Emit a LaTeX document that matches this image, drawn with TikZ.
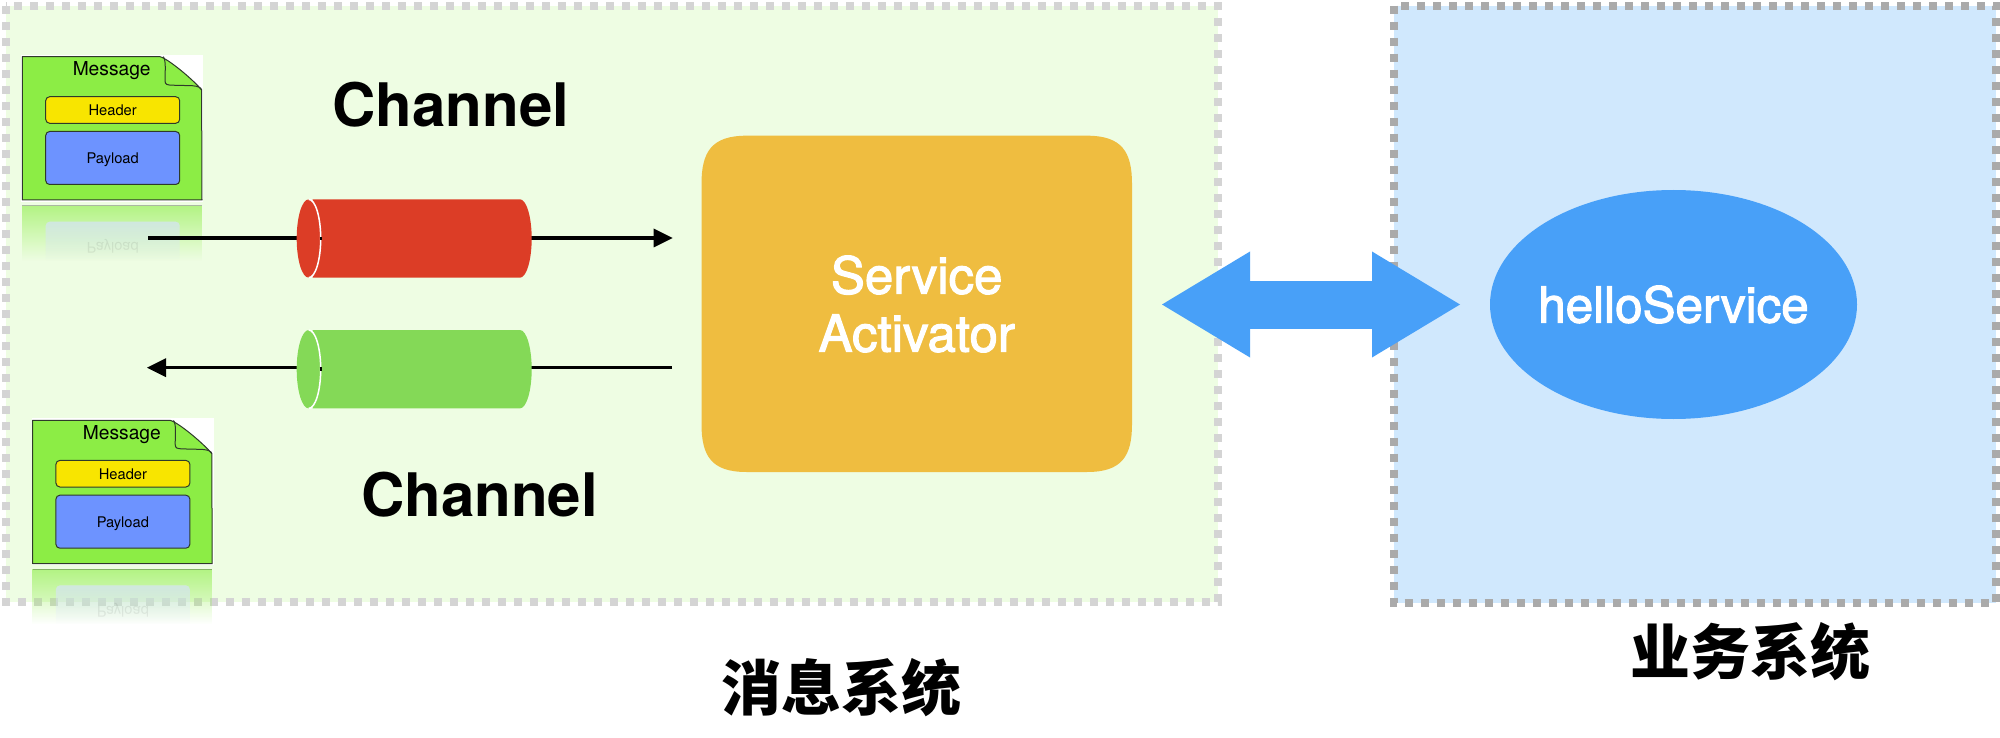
\documentclass[tikz,border=0pt]{standalone}
\usepackage{fontspec}
\setmainfont{TeX Gyre Heros}
\newfontfamily\cjkfont{Noto Sans CJK SC}
\newfontfamily\medfont[FakeBold=2.2]{TeX Gyre Heros}
\usetikzlibrary{arrows.meta,shapes.geometric,fadings}
\definecolor{regiongreen}{HTML}{EEFDE3}
\definecolor{regionblue}{HTML}{D0E8FD}
\definecolor{dashlight}{HTML}{D4D4D4}
\definecolor{dashdark}{HTML}{AAAAAA}
\definecolor{svcorange}{HTML}{EFBD40}
\definecolor{svcblue}{HTML}{48A0F8}
\definecolor{chanred}{HTML}{DC3D26}
\definecolor{changreen}{HTML}{84D957}
\definecolor{msggreen}{HTML}{8CED45}
\definecolor{hdryellow}{HTML}{F8E500}
\definecolor{payblue}{HTML}{6D93FF}
\definecolor{iconline}{HTML}{2E3A2A}
\tikzfading[name=fadedown, top color=transparent!40, bottom color=transparent!100]
\tikzset{
  x=1pt,y=-1pt,
  regionbox/.style={line width=8pt,dash pattern=on 8pt off 8pt},
  wire/.style={line width=3.5pt,black},
  wirehead/.style={-{Triangle[length=19pt,width=19pt,line width=0pt]}},
  bigtitle/.style={font=\fontsize{60}{62}\selectfont\bfseries,inner sep=0pt,anchor=base,black},
  cjktitle/.style={font=\fontsize{60}{62}\cjkfont\bfseries,inner sep=0pt,black},
  whitelabel/.style={font=\fontsize{51}{58}\medfont,text=white,align=center,inner sep=0pt},
  msgpart/.style={draw=iconline,line width=1pt,rounded corners=4pt,inner sep=0pt,
    minimum width=134pt,font=\fontsize{14.7}{16}\selectfont,text height=10.7pt,text depth=0pt},
  msgicon/.pic={
    \fill[white] (-1,-2) rectangle (181,145);
    \draw[draw=iconline,line width=1pt,fill=msggreen,line join=round]
      (0,0) -- (137.7,0) .. controls (146,2) and (172,24) .. (179.3,33.3)
      -- (179.7,143.3) -- (0,143.3) -- cycle;
    \draw[draw=iconline,line width=1pt]
      (141,0) .. controls (144,4) and (142.7,15) .. (142.7,24)
      .. controls (142.7,28) and (145,28.3) .. (150,28.5)
      -- (170,29) .. controls (176,29.5) and (179,31) .. (179.3,33.3);
    \node[inner sep=0pt,anchor=base,font=\fontsize{19.2}{20}\selectfont] (-title) at (89.4,19) {Message};
    \node[msgpart,fill=hdryellow,minimum height=26.6pt] (-hdr) at (90.4,53.3) {Header};
    \node[msgpart,fill=payblue,minimum height=53pt,text height=12pt] (-pay) at (90.4,101.3) {Payload};
  },
  msgmirror/.pic={
    \fill[msggreen,path fading=fadedown] (0,0) rectangle (179.7,55);
    \fill[white,path fading=fadedown,rounded corners=4pt] (23.4,55) -- (23.4,16) -- (157.4,16) -- (157.4,55);
    \fill[payblue,opacity=.3,path fading=fadedown,rounded corners=4pt] (23.4,55) -- (23.4,16) -- (157.4,16) -- (157.4,55);
    \draw[iconline,opacity=.35,line width=1pt] (0,0) -- (179.7,0);
    \node[inner sep=0pt,anchor=base,yscale=-1,transform shape,text opacity=.07,font=\fontsize{14.7}{16}\selectfont] (-ghost) at (90.4,37.3) {Payload};
  },
  chancyl/.pic={
    \fill[pic actions] (4,-39.2) -- (211.3,-39.2) .. controls (217.7,-39.2) and (223,-21.6) .. (223,0)
      .. controls (223,21.6) and (217.7,39.2) .. (211.3,39.2) -- (4,39.2) -- cycle;
    \fill[pic actions] (0,0) circle [x radius=12pt,y radius=39.2pt];
    \draw[white,line width=1.5pt] (0,-39.2) .. controls (6.6,-39.2) and (12,-21.6) .. (12,0)
      .. controls (12,21.6) and (6.6,39.2) .. (0,39.2);
    \draw[wire] (11,0) -- (13,0);
  }
}
\begin{document}
\begin{tikzpicture}
\useasboundingbox (0,0) rectangle (2000,738);
% regions
\fill[regiongreen] (5.8,6) rectangle (1218,602);
\draw[regionbox,dashlight] (5.8,6) rectangle (1218,602);
\fill[regionblue] (1394,5.6) rectangle (1996,603);
\draw[regionbox,dashdark] (1394,5.6) rectangle (1996,603);
% message icons
\pic (m1) at (22.3,56.7) {msgicon};
\pic (r1) at (22.3,205.7) {msgmirror};
\pic (m2) at (32.5,420.4) {msgicon};
\pic (r2) at (32.5,569.4) {msgmirror};
% channels
\coordinate (inA) at (148,238);
\coordinate (inB) at (672.7,238);
\coordinate (outA) at (672,367.7);
\coordinate (outB) at (147,367.7);
\draw[wire,wirehead] (inA) -- (inB);
\draw[wire,wirehead] (outA) -- (outB);
\pic[fill=chanred] (c1) at (308.7,238.5) {chancyl};
\pic[fill=changreen] (c2) at (308.7,369.2) {chancyl};
\node[bigtitle] (t1) at (451,127) {Channel};
\node[bigtitle] (t2) at (479.5,516) {Channel};
% service activator
\fill[svcorange] (746.5,135.7) -- (1087,135.7) .. controls (1122,135.7) and (1132,152) .. (1132,184)
  -- (1132,424) .. controls (1132,456) and (1122,472) .. (1087,472)
  -- (746.5,472) .. controls (711.5,472) and (701.5,456) .. (701.5,424)
  -- (701.5,184) .. controls (701.5,152) and (711.5,135.7) .. (746.5,135.7) -- cycle;
\node[whitelabel] (svc) at (916.7,304) {Service\\Activator};
% hello service
\node[ellipse,fill=svcblue,minimum width=367pt,minimum height=229pt,inner sep=0pt] (hello) at (1673.5,304.5) {};
\node[font=\fontsize{49.4}{52}\medfont,text=white,inner sep=0pt] (hellotext) at (hello.center) {helloService};
% double arrow
\coordinate (dblL) at (1162,304.5);
\coordinate (dblR) at (1460,304.5);
\draw[svcblue,line width=48pt,{Triangle[length=88pt,width=106pt,line width=0pt]}-{Triangle[length=88pt,width=106pt,line width=0pt]}] (dblL) -- (dblR);
% captions
\node[cjktitle] (cap1) at (841,688) {消息系统};
\node[cjktitle] (cap2) at (1750,652) {业务系统};
\end{tikzpicture}
\end{document}
